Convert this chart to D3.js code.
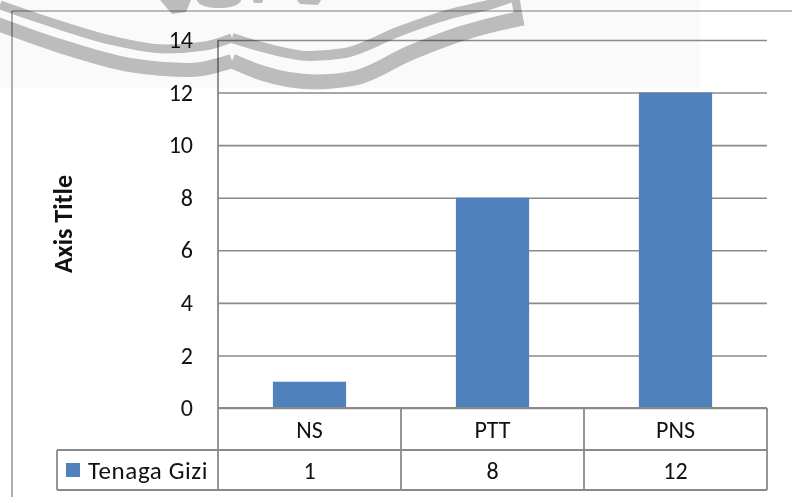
<!DOCTYPE html>
<html>
<head>
<meta charset="utf-8">
<script src="https://cdn.jsdelivr.net/npm/d3@7"></script>
<style>
  html, body { margin: 0; padding: 0; background: #fff; }
  svg { display: block; }
  text { font-family: Carlito, Lato, "Open Sans", sans-serif; fill: #111; }
</style>
</head>
<body>
<svg id="chart" width="792" height="497"></svg>
<script>
// Data
const categories = ["NS", "PTT", "PNS"];
const seriesName = "Tenaga Gizi";
const seriesValues = [1, 8, 12];
const yTicks = [0, 2, 4, 6, 8, 10, 12, 14];
const axisTitle = "Axis Title";

// Decorative ribbon stamp along the top edge
const ribbonUpperA = [[0, 5], [50, 22], [110, 40], [165, 49], [205, 46], [232, 38]];
const ribbonUpperB = [[232, 38], [262, 47], [310, 56], [345, 53], [400, 31], [450, 14], [495, 3], [512, -3]];
const ribbonLowerA = [[-5, 23], [60, 46], [130, 65], [190, 70], [232, 61]];
const ribbonLowerB = [[232, 61], [262, 73], [315, 82], [355, 78], [410, 53], [460, 34], [500, 23], [523, 18]];

const svg = d3.select("#chart");
const W = 792, H = 497;

const plot = { left: 218, right: 767, top: 40, bottom: 408 };
const rowH = [42, 40];          // category row, value row
const legendLeft = 57;
const lineColor = "#8a8a8a";
const fontSize = 24;

// faint band behind the stamp
svg.append("rect").attr("x", 0).attr("y", 0).attr("width", 700).attr("height", 88).attr("fill", "#fafafa");

// outer chart frame
svg.append("line").attr("x1", 12).attr("y1", 11).attr("x2", W).attr("y2", 11)
  .attr("stroke", "#7a7a7a").attr("stroke-width", 1.2);
svg.append("line").attr("x1", 12).attr("y1", 11).attr("x2", 12).attr("y2", H)
  .attr("stroke", "#7a7a7a").attr("stroke-width", 1.2);

const x = d3.scaleBand().domain(categories).range([plot.left, plot.right])
  .paddingInner(0.6).paddingOuter(0.3);
const y = d3.scaleLinear().domain([0, 14]).range([plot.bottom, plot.top]);

// gridlines + tick labels
const yAxis = d3.axisLeft(y).tickValues(yTicks)
  .tickSize(-(plot.right - plot.left)).tickPadding(25).tickFormat(d3.format("d"));
const gy = svg.append("g").attr("transform", `translate(${plot.left},0)`).call(yAxis);
gy.select(".domain").remove();
gy.selectAll(".tick line").attr("stroke", lineColor).attr("stroke-width", 1.6);
gy.selectAll(".tick text").attr("font-size", fontSize).attr("fill", "#111")
  .style("font-family", "Carlito, Lato, 'Open Sans', sans-serif");

// bars
svg.append("g").selectAll("rect").data(seriesValues).join("rect")
  .attr("x", (d, i) => x(categories[i]))
  .attr("y", d => y(d))
  .attr("width", x.bandwidth())
  .attr("height", d => y(0) - y(d))
  .attr("fill", "#4f81bd");

// data table
const step = x.step();
const rowTop = plot.bottom;
const rowMid = plot.bottom + rowH[0];
const rowBot = rowMid + rowH[1];
const t = svg.append("g").attr("stroke", lineColor).attr("stroke-width", 1.8);
t.append("line").attr("x1", plot.left).attr("x2", plot.right).attr("y1", rowTop).attr("y2", rowTop);
t.append("line").attr("x1", legendLeft).attr("x2", plot.right).attr("y1", rowMid).attr("y2", rowMid);
t.append("line").attr("x1", legendLeft).attr("x2", plot.right).attr("y1", rowBot).attr("y2", rowBot);
t.append("line").attr("x1", legendLeft).attr("x2", legendLeft).attr("y1", rowMid).attr("y2", rowBot);
t.append("line").attr("x1", plot.left).attr("x2", plot.left).attr("y1", plot.top).attr("y2", rowBot);
categories.forEach(c => {
  const xr = x(c) + x.bandwidth() / 2 + step / 2;
  t.append("line").attr("x1", xr).attr("x2", xr).attr("y1", rowTop).attr("y2", rowBot);
});

svg.append("g").selectAll("text").data(categories).join("text")
  .attr("x", c => x(c) + x.bandwidth() / 2)
  .attr("y", (rowTop + rowMid) / 2)
  .attr("text-anchor", "middle").attr("dominant-baseline", "central")
  .attr("font-size", fontSize).text(c => c);

svg.append("g").selectAll("text").data(seriesValues).join("text")
  .attr("x", (d, i) => x(categories[i]) + x.bandwidth() / 2)
  .attr("y", (rowMid + rowBot) / 2)
  .attr("text-anchor", "middle").attr("dominant-baseline", "central")
  .attr("font-size", fontSize).text(d => d);

// legend key in table
svg.append("rect").attr("x", legendLeft + 9).attr("y", (rowMid + rowBot) / 2 - 7)
  .attr("width", 14).attr("height", 14).attr("fill", "#4f81bd");
svg.append("text").attr("x", legendLeft + 31).attr("y", (rowMid + rowBot) / 2)
  .attr("dominant-baseline", "central").attr("font-size", fontSize + 1)
  .attr("letter-spacing", 0.6).text(seriesName);

// axis title
svg.append("text")
  .attr("transform", `translate(63,${(plot.top + plot.bottom) / 2}) rotate(-90)`)
  .attr("text-anchor", "middle").attr("dominant-baseline", "central")
  .attr("font-size", 26).attr("font-weight", "bold").text(axisTitle);

// ribbon stamp drawn over the chart
const stamp = svg.append("g").style("mix-blend-mode", "multiply");
const line = d3.line().curve(d3.curveMonotoneX);
[[ribbonUpperA, 9], [ribbonUpperB, 10], [ribbonLowerA, 14], [ribbonLowerB, 15]].forEach(([pts, w]) => {
  stamp.append("path").attr("d", line(pts)).attr("fill", "none")
    .attr("stroke", "#c0c0c0").attr("stroke-width", w).attr("stroke-linejoin", "round");
});
stamp.append("path").attr("d", "M511,0 L520,0 L524,26 L516,22 Z").attr("fill", "#c0c0c0");
stamp.append("path").attr("d", "M160,0 L172,14 L186,12 L191,0 Z").attr("fill", "#c0c0c0");
stamp.append("path").attr("d", "M197,0 A22,8 0 0 0 241,0 Z").attr("fill", "#c0c0c0");
stamp.append("path").attr("d", "M253,0 L263,0 L262,3 L254,3 Z").attr("fill", "#c0c0c0");
stamp.append("path").attr("d", "M297,0 L321,0 L318,5 L300,4 Z").attr("fill", "#c0c0c0");
</script>
</body>
</html>
